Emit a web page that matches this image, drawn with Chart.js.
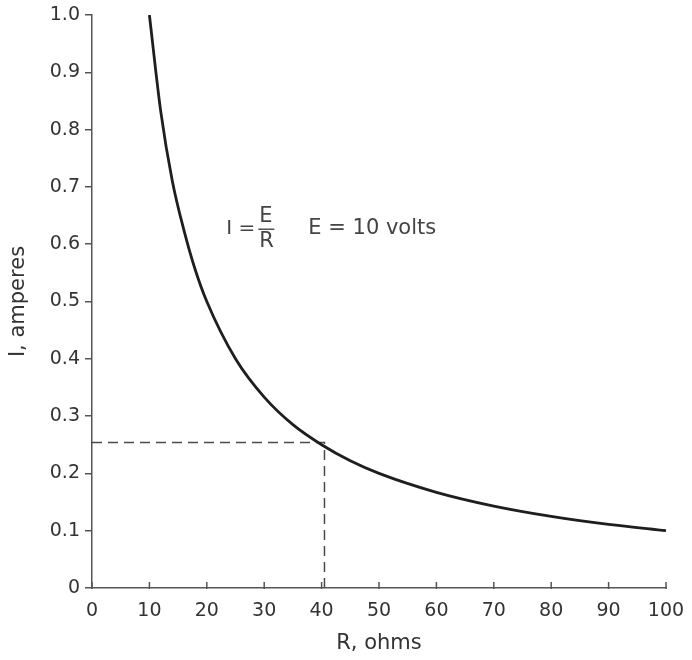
<!DOCTYPE html>
<html>
<head>
<meta charset="utf-8">
<script src="https://cdn.jsdelivr.net/npm/chart.js@4/dist/chart.umd.min.js"></script>
<style>
  html, body { margin: 0; padding: 0; background: #fff; }
  #wrap { width: 692px; height: 660px; }
</style>
</head>
<body>
<div id="wrap"><canvas id="myChart" width="692" height="660"></canvas></div>
<script>
// curve: R (ohms) vs I (amperes)
var resistance = [10, 12, 14, 16, 18, 20, 25, 30, 35, 40, 45, 50, 60, 70, 80, 90, 100];
var current = [1.0, 0.83, 0.71, 0.625, 0.555, 0.5, 0.4, 0.333, 0.285, 0.25, 0.222, 0.2, 0.167, 0.143, 0.125, 0.111, 0.1];

// dashed guide at R = 40
var guideR = [0, 40.5, 40.5];
var guideI = [0.254, 0.254, 0];

var xTicks = [0, 10, 20, 30, 40, 50, 60, 70, 80, 90, 100];
var yTicks = [0, 0.1, 0.2, 0.3, 0.4, 0.5, 0.6, 0.7, 0.8, 0.9, 1.0];

function pairs(xs, ys) {
  return xs.map(function (x, i) { return { x: x, y: ys[i] }; });
}

var FONT = '"DejaVu Sans", sans-serif';
var INK = '#555';

// x ticks point up into the plot, the formula text sits inside the plot
var extras = {
  id: 'extras',
  afterDraw: function (chart) {
    var c = chart.ctx;
    var xs = chart.scales.x, ys = chart.scales.y;
    var y0 = ys.getPixelForValue(0);
    c.save();
    c.strokeStyle = INK;
    c.lineWidth = 1.5;
    xTicks.forEach(function (v) {
      var px = xs.getPixelForValue(v);
      c.beginPath();
      c.moveTo(px, y0 + 1);
      c.lineTo(px, y0 - 6);
      c.stroke();
    });

    // I = E/R    E = 10 volts
    var bx = xs.getPixelForValue(23.4);
    var by = ys.getPixelForValue(0.627);
    c.fillStyle = '#444';
    c.textBaseline = 'middle';
    c.textAlign = 'left';
    c.font = '20px ' + FONT;
    c.fillText('I =', bx, by);
    c.font = '21px ' + FONT;
    c.fillText('E', bx + 33, by - 12);
    c.fillText('R', bx + 33, by + 13);
    c.beginPath();
    c.moveTo(bx + 32, by + 0.5);
    c.lineTo(bx + 48, by + 0.5);
    c.lineWidth = 1.4;
    c.strokeStyle = '#444';
    c.stroke();
    c.fillText('E = 10 volts', bx + 82, by);
    c.restore();
  }
};

var ctx = document.getElementById('myChart').getContext('2d');
var myChart = new Chart(ctx, {
  type: 'scatter',
  data: {
    datasets: [
      {
        label: 'I',
        data: pairs(resistance, current),
        showLine: true,
        borderColor: '#1e1e1e',
        borderWidth: 2.8,
        pointRadius: 0,
        cubicInterpolationMode: 'monotone',
        fill: false
      },
      {
        label: 'guide',
        data: pairs(guideR, guideI),
        showLine: true,
        borderColor: '#4a4a4a',
        borderWidth: 1.5,
        borderDash: [10, 6],
        pointRadius: 0,
        tension: 0,
        fill: false
      }
    ]
  },
  options: {
    responsive: false,
    animation: false,
    layout: { padding: { top: 15, right: 26, left: 0, bottom: 0 } },
    plugins: { legend: { display: false }, tooltip: { enabled: false } },
    scales: {
      x: {
        type: 'linear',
        min: 0,
        max: 100,
        afterBuildTicks: function (s) { s.ticks = xTicks.map(function (v) { return { value: v }; }); },
        afterFit: function (s) { s.height = 72; s.paddingRight = 0; s.paddingLeft = 0; },
        border: { display: true, color: INK, width: 1.5 },
        grid: { display: false, drawTicks: false },
        ticks: { color: '#333', font: { family: FONT, size: 19 }, padding: 12, maxRotation: 0 },
        title: { display: true, text: 'R, ohms', color: '#333', font: { family: FONT, size: 21 }, padding: { top: 3 } }
      },
      y: {
        type: 'linear',
        min: 0,
        max: 1.0,
        afterBuildTicks: function (s) { s.ticks = yTicks.map(function (v) { return { value: v }; }); },
        afterFit: function (s) { s.width = 92; s.paddingTop = 0; s.paddingBottom = 0; },
        border: { display: true, color: INK, width: 1.5 },
        grid: { display: true, drawOnChartArea: false, drawTicks: true, tickLength: 7, color: INK, lineWidth: 1.5 },
        ticks: {
          color: '#333',
          font: { family: FONT, size: 19 },
          padding: 5,
          callback: function (v) { return v === 0 ? '0' : v.toFixed(1); }
        },
        title: { display: true, text: 'I, amperes', color: '#333', font: { family: FONT, size: 21 }, padding: { top: 6, bottom: 0 } }
      }
    }
  },
  plugins: [extras]
});
</script>
</body>
</html>
